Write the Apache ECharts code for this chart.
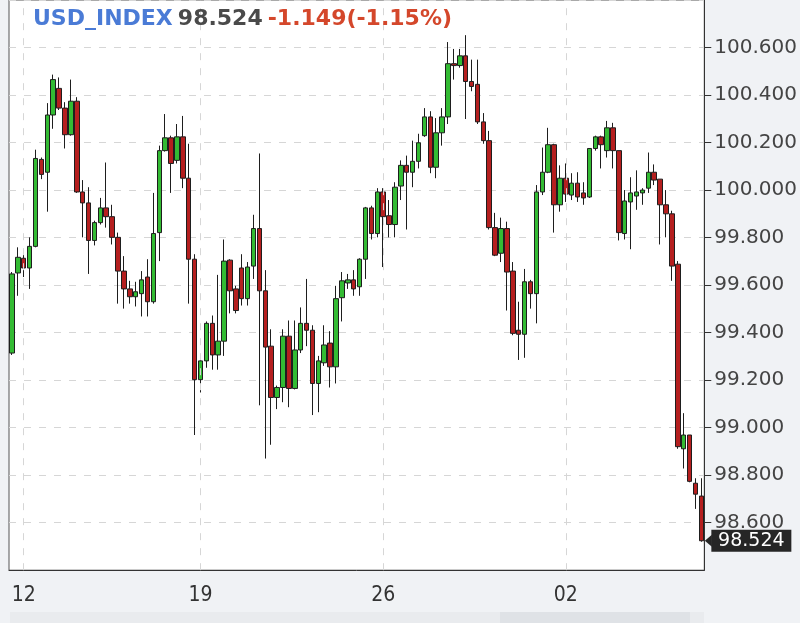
<!DOCTYPE html>
<html><head><meta charset="utf-8">
<script src="https://cdn.jsdelivr.net/npm/echarts@6/dist/echarts.min.js"></script>
<style>html,body{margin:0;padding:0;background:#f0f2f5;}#c{width:800px;height:623px;}</style>
</head><body><div id="c"></div>
<script>
const symbolName = 'USD_INDEX';
const lastPriceText = '98.524';
const changeText = '-1.149(-1.15%)';
const lastPrice = 98.524;

const tickIndex = [2, 32, 63, 94];
const tickLabels = ['12', '19', '26', '02'];
const yTickMin = 98.4, yTickMax = 100.8, yTickStep = 0.2;

const opens = [
99.314,99.651,99.713,99.672,99.763,100.129,100.075,100.316,100.428,100.345,
100.233,100.374,99.992,99.946,99.788,99.863,99.925,99.888,99.801,99.659,
99.584,99.551,99.564,99.634,99.530,99.821,100.166,100.220,100.125,100.224,
100.050,99.709,99.202,99.281,99.439,99.306,99.364,99.705,99.584,99.672,
99.543,99.680,99.838,99.576,99.343,99.127,99.169,99.385,99.165,99.327,
99.439,99.410,99.186,99.273,99.356,99.256,99.547,99.609,99.622,99.593,
99.709,99.925,99.817,99.992,99.892,99.855,100.017,100.104,100.075,100.121,
100.229,100.308,100.096,100.241,100.308,100.532,100.524,100.565,100.457,100.445,
100.287,100.208,99.842,99.734,99.838,99.659,99.410,99.393,99.614,99.564,
99.992,100.075,100.191,99.938,100.050,99.979,100.029,99.988,99.971,100.175,
100.224,100.166,100.262,100.166,99.817,99.950,99.975,99.988,100.008,100.075,
100.046,99.938,99.900,99.688,98.911,98.969,98.766,98.712];
const closes = [
99.647,99.717,99.672,99.763,100.133,100.066,100.316,100.465,100.345,100.233,
100.374,99.992,99.946,99.788,99.863,99.925,99.888,99.801,99.659,99.584,
99.551,99.572,99.622,99.530,99.817,100.166,100.220,100.112,100.224,100.050,
99.709,99.202,99.281,99.439,99.306,99.364,99.701,99.576,99.493,99.543,
99.676,99.838,99.576,99.339,99.127,99.169,99.385,99.165,99.327,99.439,
99.410,99.186,99.281,99.348,99.256,99.543,99.618,99.622,99.584,99.709,
99.925,99.817,99.992,99.888,99.855,100.012,100.104,100.075,100.121,100.199,
100.308,100.096,100.241,100.308,100.532,100.524,100.565,100.457,100.436,100.287,
100.208,99.842,99.726,99.838,99.655,99.397,99.393,99.614,99.564,99.992,
100.075,100.191,99.938,100.050,99.983,100.029,99.971,99.967,100.175,100.224,
100.191,100.262,100.166,99.821,99.954,99.988,99.992,100.000,100.075,100.042,
99.938,99.900,99.680,98.920,98.969,98.774,98.720,98.524];
const highs = [
99.655,99.759,99.738,99.801,100.170,100.137,100.366,100.486,100.474,100.370,
100.465,100.391,100.042,100.012,99.871,99.967,100.116,99.938,99.821,99.722,
99.618,99.614,99.659,99.709,99.988,100.187,100.320,100.229,100.278,100.312,
100.195,99.730,99.302,99.447,99.472,99.643,99.792,99.709,99.597,99.730,
99.697,99.896,100.154,99.663,99.414,99.177,99.414,99.451,99.451,99.506,
99.626,99.431,99.302,99.431,99.406,99.597,99.655,99.647,99.663,99.713,
99.929,99.934,100.008,100.008,99.958,100.033,100.125,100.145,100.208,100.237,
100.345,100.332,100.303,100.345,100.623,100.594,100.594,100.652,100.549,100.549,
100.324,100.249,99.904,99.884,99.867,99.697,99.530,99.668,99.622,100.021,
100.179,100.262,100.195,100.104,100.112,100.071,100.075,100.033,100.175,100.229,
100.229,100.291,100.283,100.166,100.000,100.054,100.083,100.008,100.158,100.108,
100.046,100.000,99.913,99.701,99.061,98.969,98.787,98.787];
const lows = [
99.306,99.555,99.634,99.584,99.759,100.046,99.909,100.258,100.337,100.175,
100.229,99.988,99.801,99.647,99.767,99.855,99.842,99.771,99.522,99.501,
99.522,99.510,99.468,99.468,99.522,99.701,100.162,99.988,100.112,100.008,
99.522,98.969,99.148,99.252,99.244,99.244,99.302,99.481,99.481,99.514,
99.514,99.626,99.094,98.870,98.928,99.078,99.107,99.086,99.161,99.314,
99.343,99.053,99.065,99.260,99.169,99.186,99.447,99.584,99.555,99.555,
99.626,99.792,99.801,99.676,99.801,99.801,99.958,99.834,100.012,100.091,
100.224,100.071,100.050,100.187,100.278,100.465,100.515,100.299,100.416,100.278,
100.195,99.834,99.722,99.697,99.493,99.389,99.285,99.294,99.501,99.439,
99.979,100.071,99.821,99.909,99.950,99.958,99.950,99.938,99.967,100.166,
100.091,100.137,100.091,99.788,99.792,99.751,99.917,99.938,99.988,100.021,
99.771,99.801,99.618,98.911,98.828,98.770,98.658,98.520];

const N = opens.length;
const categories = opens.map((_, i) => String(i));
const labelAt = {};
tickIndex.forEach((k, j) => { labelAt[k] = tickLabels[j]; });
const candles = opens.map((o, i) => [o, closes[i], lows[i], highs[i]]);
const isTick = (idx) => labelAt[idx] !== undefined;

const chart = echarts.init(document.getElementById('c'), null, {renderer: 'canvas'});
chart.setOption({
  animation: false,
  backgroundColor: '#f0f2f5',
  title: {
    left: 28, top: 3,
    text: '{a|' + symbolName + '} {b|' + lastPriceText + '} {c|' + changeText + '}',
    textStyle: {
      rich: {
        a: {color: '#4a7bd6', fontWeight: 'bold', fontSize: 22, fontFamily: 'DejaVu Sans'},
        b: {color: '#4a4a4a', fontWeight: 'bold', fontSize: 22, fontFamily: 'DejaVu Sans'},
        c: {color: '#d4472b', fontWeight: 'bold', fontSize: 22, fontFamily: 'DejaVu Sans'}
      }
    }
  },
  grid: {
    left: 9, right: 95, top: -7.4, bottom: 52.8,
    show: true, backgroundColor: '#ffffff', borderColor: '#555', borderWidth: 1
  },
  xAxis: {
    type: 'category', data: categories, boundaryGap: true,
    axisLine: {lineStyle: {color: '#333', width: 1}},
    axisTick: {alignWithLabel: true, interval: isTick, length: 7, lineStyle: {color: '#333'}},
    axisLabel: {
      interval: isTick, formatter: (v, idx) => labelAt[idx] || '',
      color: '#333', fontSize: 21, fontFamily: "'DejaVu Sans Condensed','Liberation Sans Narrow',sans-serif", margin: 15
    },
    splitLine: {show: false}
  },
  yAxis: {
    type: 'value', position: 'right', scale: true,
    min: yTickMin, max: yTickMax, interval: yTickStep,
    axisLine: {show: true, lineStyle: {color: '#333', width: 1}},
    axisTick: {show: true, length: 7, lineStyle: {color: '#333'}},
    axisLabel: {
      formatter: (v) => v.toFixed(3), color: '#444', fontSize: 20, fontFamily: 'DejaVu Sans',
      margin: 10, showMaxLabel: false, showMinLabel: false
    },
    splitLine: {show: true, lineStyle: {color: '#d6d6d6', type: [7, 8], width: 1}}
  },
  graphic: [
    {type: 'rect', shape: {x: 10, y: 612, width: 694, height: 11}, style: {fill: '#e9ebee'}, silent: true},
    {type: 'rect', shape: {x: 500, y: 612, width: 190, height: 11}, style: {fill: '#dfe2e6'}, silent: true}
  ],
  series: [{
    type: 'candlestick',
    data: candles,
    barWidth: 5,
    clip: true,
    itemStyle: {
      color: '#33bb33', color0: '#b51f1f',
      borderColor: '#1e1e1e', borderColor0: '#1e1e1e', borderWidth: 1
    },
    markLine: {
      silent: true, symbol: 'none', animation: false,
      data: tickIndex.map(k => ({
        xAxis: String(k),
        lineStyle: {color: '#d6d6d6', type: [7, 8], width: 1},
        label: {show: false}
      }))
    },
    markPoint: {
      silent: true, animation: false,
      data: [
        {
          coord: [String(N - 1), lastPrice],
          symbol: 'rect', symbolSize: [80, 22], symbolOffset: [50, 0],
          itemStyle: {color: '#262626'},
          label: {
            show: true, position: 'inside', formatter: lastPriceText,
            color: '#ffffff', fontSize: 19, fontFamily: 'DejaVu Sans'
          }
        },
        {
          coord: [String(N - 1), lastPrice],
          symbol: 'triangle', symbolSize: [12, 7], symbolRotate: 90, symbolOffset: [7, 0],
          itemStyle: {color: '#262626'},
          label: {show: false}
        }
      ]
    }
  }]
});
</script></body></html>
